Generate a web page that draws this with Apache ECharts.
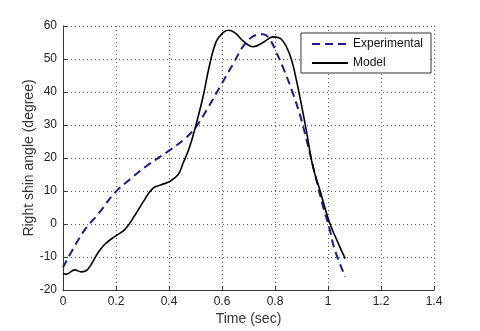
<!DOCTYPE html>
<html lang="en">
<head>
    <meta charset="UTF-8">
    <title>Right shin angle</title>
    <script src="https://cdn.jsdelivr.net/npm/echarts@6/dist/echarts.min.js"></script>
    <style>
        html, body { margin: 0; padding: 0; background: #fff; }
    </style>
</head>
<body>
<div id="chart" style="width: 480px; height: 331px;"></div>
<script>
    // time (sec) / angle (degree)
    const expTime = [0, 0.044, 0.088, 0.132, 0.195, 0.258, 0.321, 0.403, 0.453, 0.497, 0.541, 0.591, 0.642, 0.686, 0.73, 0.755, 0.78, 0.805, 0.83, 0.868, 0.9, 0.956, 0.981, 1.006, 1.025, 1.065];
    const expAngle = [-13.2, -6.7, -1.1, 2.9, 9.4, 13.9, 17.9, 22.4, 25.4, 28.9, 34.4, 41.4, 48.5, 54.5, 57.3, 57.5, 56, 52, 47.5, 39.5, 31.4, 13.4, 5.4, -1.5, -7.7, -16];

    const modelTime = [0, 0.013, 0.044, 0.069, 0.094, 0.132, 0.157, 0.195, 0.233, 0.27, 0.308, 0.34, 0.371, 0.403, 0.434, 0.453, 0.478, 0.503, 0.528, 0.554, 0.579, 0.604, 0.623, 0.648, 0.679, 0.717, 0.755, 0.792, 0.824, 0.855, 0.881, 0.918, 0.943, 0.969, 1.006, 1.038, 1.065];
    const modelAngle = [-15, -15.2, -13.9, -14.5, -13.7, -8.7, -6.2, -3.8, -1.7, 2.5, 7.4, 10.9, 11.9, 12.9, 14.9, 18.4, 23.4, 30.4, 38.4, 48.5, 55.4, 58, 58.7, 58, 55.5, 53.7, 55, 56.7, 56, 51.5, 43.5, 28.4, 17.4, 10.4, 0.4, -5.7, -10.5];

    const seriesNames = ['Experimental', 'Model'];

    const chart = echarts.init(document.querySelector('#chart'));

    const font = 'Liberation Sans, Arial, sans-serif';
    const gridLine = { show: true, lineStyle: { color: '#555', type: [1, 3], width: 1 } };

    chart.setOption({
        animation: false,
        backgroundColor: '#fff',
        textStyle: { fontFamily: font },
        grid: { left: 63, right: 46, top: 26, bottom: 40 },
        legend: {
            right: 49,
            top: 33,
            orient: 'vertical',
            itemWidth: 36,
            itemHeight: 10,
            itemGap: 7,
            padding: [5, 8, 4, 10],
            borderColor: '#333',
            borderWidth: 1,
            backgroundColor: '#fff',
            itemStyle: { opacity: 0 },
            textStyle: { fontFamily: font, fontSize: 12, color: '#111' },
            data: seriesNames
        },
        xAxis: {
            type: 'value',
            min: 0,
            max: 1.4,
            interval: 0.2,
            name: 'Time (sec)',
            nameLocation: 'middle',
            nameGap: 22,
            nameMoveOverlap: false,
            nameTextStyle: { fontSize: 14, color: '#333' },
            axisLine: { onZero: false, lineStyle: { color: '#333' } },
            axisTick: { inside: true, length: 4, lineStyle: { color: '#333' } },
            axisLabel: { color: '#222', fontSize: 12, margin: 6 },
            splitLine: gridLine
        },
        yAxis: {
            type: 'value',
            min: -20,
            max: 60,
            interval: 10,
            name: 'Right shin angle (degree)',
            nameLocation: 'middle',
            nameGap: 27,
            nameMoveOverlap: false,
            nameTextStyle: { fontSize: 14, color: '#333' },
            axisLine: { show: true, onZero: false, lineStyle: { color: '#333' } },
            axisTick: { show: true, inside: true, length: 4, lineStyle: { color: '#333' } },
            axisLabel: { color: '#222', fontSize: 12, margin: 6 },
            splitLine: gridLine
        },
        series: [
            {
                name: seriesNames[0],
                type: 'line',
                smooth: 0.4,
                symbol: 'none',
                data: expTime.map((t, i) => [t, expAngle[i]]),
                itemStyle: { color: '#1c1c8a' },
                lineStyle: { color: '#1c1c8a', width: 2, type: [8, 5] }
            },
            {
                name: seriesNames[1],
                type: 'line',
                smooth: 0.4,
                symbol: 'none',
                data: modelTime.map((t, i) => [t, modelAngle[i]]),
                itemStyle: { color: '#000' },
                lineStyle: { color: '#000', width: 1.6 }
            }
        ]
    });
</script>
</body>
</html>
